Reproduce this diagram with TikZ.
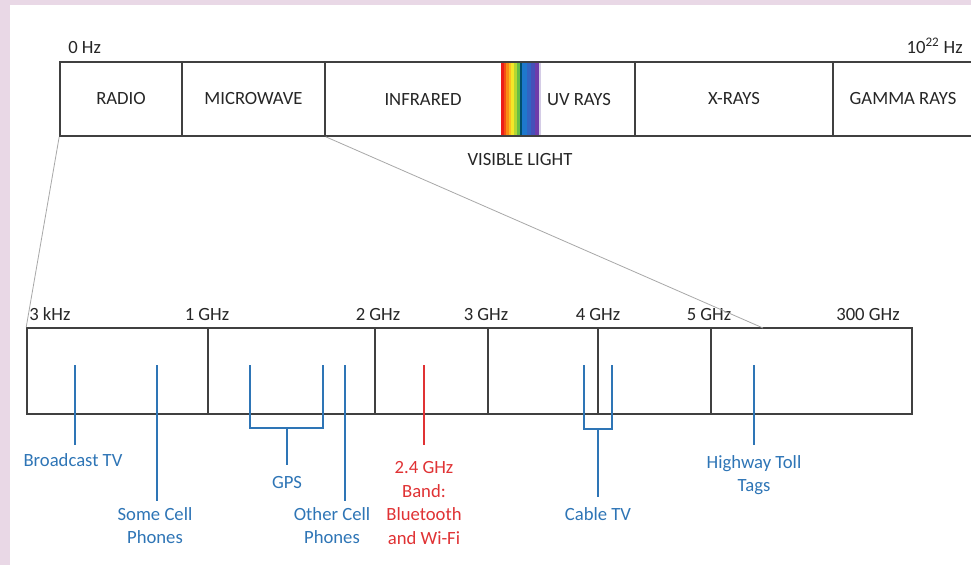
\documentclass[tikz,border=0pt]{standalone}
\usepackage{fontspec}
\setmainfont{Carlito}
\usepackage{tikz}
\usetikzlibrary{positioning,calc}
\usepackage{xcolor}

\definecolor{framegray}{RGB}{64,64,64}
\definecolor{textgray}{RGB}{38,38,38}
\definecolor{zoomgray}{RGB}{168,168,168}
\definecolor{useblue}{RGB}{46,117,182}
\definecolor{usered}{RGB}{224,50,52}
\definecolor{edgepink}{RGB}{233,216,230}
% rainbow stripes
\definecolor{rbred}{RGB}{236,30,24}
\definecolor{rbredorange}{RGB}{245,80,20}
\definecolor{rborange}{RGB}{250,140,20}
\definecolor{rbamber}{RGB}{250,190,30}
\definecolor{rbyellow}{RGB}{244,230,40}
\definecolor{rblime}{RGB}{180,215,50}
\definecolor{rbgreen}{RGB}{100,190,70}
\definecolor{rbteal}{RGB}{0,80,110}
\definecolor{rbblue}{RGB}{30,120,205}
\definecolor{rbmidblue}{RGB}{50,100,195}
\definecolor{rbindigo}{RGB}{70,80,185}
\definecolor{rbviolet}{RGB}{110,60,170}
\definecolor{rblilac}{RGB}{212,204,230}

\begin{document}
\begin{tikzpicture}[x=0.75pt, y=-0.75pt,
    topband/.style={draw=framegray, line width=1.2pt, inner sep=0pt,
                    minimum width=#1*0.75pt, minimum height=74*0.75pt,
                    font=\fontsize{14}{17}\selectfont, text=textgray},
    lowband/.style={draw=framegray, line width=1.2pt, inner sep=0pt,
                    minimum width=#1*0.75pt, minimum height=86*0.75pt},
    bandtxt/.style={font=\fontsize{14}{17}\selectfont, text=textgray, inner sep=0pt},
    freq/.style={font=\fontsize{14}{17}\selectfont, text=textgray, inner sep=0pt},
    zoomline/.style={draw=zoomgray, line width=0.6pt},
    uselbl/.style={font=\fontsize{14}{17.8}\selectfont, align=center,
                   inner sep=0pt, anchor=north},
    bluelbl/.style={uselbl, text=useblue},
    redlbl/.style={uselbl, text=usered},
    bluetick/.style={draw=useblue, line width=1.5pt},
    redtick/.style={draw=usered, line width=1.5pt}
]

% Page and blurred edge
\useasboundingbox (0,0) rectangle (971,565);
\fill[edgepink] (0,0) rectangle (971,565);
\fill[white] (10,5) rectangle (971,565);

% Visible light stripes
\foreach \c/\xa/\xb in {rbred/501/504, rbredorange/504/506, rborange/506/508.5,
                        rbamber/508.5/511, rbyellow/511/514, rblime/514/516.5,
                        rbgreen/516.5/520, rbteal/520/522, rbblue/522/527,
                        rbmidblue/527/531, rbindigo/531/535, rbviolet/535/539,
                        rblilac/539/541} {
    \fill[\c] (\xa,63) rectangle (\xb,135);
}

% Full spectrum bar
\node[topband={122}] (radio) at (121,99) {RADIO};
\node[topband={143}] (microwave) at (253.5,99) {MICROWAVE};
\node[topband={310}] (irbox) at (480,99) {};
\node[bandtxt] (infrared) at (423,100) {INFRARED};
\node[bandtxt] (uvrays) at (579,100) {UV RAYS};
\node[topband={198}] (xrays) at (734,99) {X-RAYS};
\node[topband={140}] (gamma) at (903,99) {GAMMA RAYS};

\node[freq, anchor=base west] (zerohz) at (68,53) {0 Hz};
\node[freq, anchor=base east] (maxhz) at (963,53) {10\textsuperscript{22} Hz};
\node[bandtxt, anchor=base] (visible) at (520,165) {VISIBLE LIGHT};

% Radio / microwave close-up
\node[lowband={181}] (low1) at (117.5,371) {};
\node[lowband={167}] (low2) at (291.5,371) {};
\node[lowband={113}] (low3) at (431.5,371) {};
\node[lowband={110}] (low4) at (543,371) {};
\node[lowband={113}] (low5) at (654.5,371) {};
\node[lowband={201}] (low6) at (811.5,371) {};

\node[freq, anchor=base west] (f3k) at (29,320) {3 kHz};
\foreach \f/\x in {1 GHz/207, 2 GHz/378, 3 GHz/486, 4 GHz/598, 5 GHz/709, 300 GHz/868} {
    \node[freq, anchor=base] (f\x) at (\x,320) {\f};
}

% Zoom lines
\coordinate (zoomend) at (763,328);
\draw[zoomline] (radio.south west) -- (low1.north west);
\draw[zoomline] (microwave.south east) -- (zoomend);

% Uses
\coordinate (btvtop) at (75,365);
\coordinate (celltop) at (157,365);
\coordinate (gpsl) at (250,365);
\coordinate (gpsr) at (323,365);
\coordinate (gpsjoin) at (287,428);
\coordinate (othertop) at (345,365);
\coordinate (wifitop) at (424,365);
\coordinate (cabl) at (584,365);
\coordinate (cabr) at (612,365);
\coordinate (cabjoin) at (598,429);
\coordinate (tolltop) at (754,365);

\node[bluelbl] (btv) at (73,453) {Broadcast TV};
\node[bluelbl] (somecell) at (155,507) {Some Cell\\Phones};
\node[bluelbl] (gps) at (287,476) {GPS};
\node[bluelbl] (othercell) at (332,507) {Other Cell\\Phones};
\node[redlbl] (wifi) at (424,461) {2.4 GHz\\Band:\\Bluetooth\\and Wi-Fi};
\node[bluelbl] (cabletv) at (598,507) {Cable TV};
\node[bluelbl] (toll) at (754,455) {Highway Toll\\Tags};

\draw[bluetick, shorten >=6pt] (btvtop) -- (btvtop |- btv.north);
\draw[bluetick, shorten >=4.5pt] (celltop) -- (celltop |- somecell.north);
\draw[bluetick] (gpsl) |- (gpsjoin) -| (gpsr);
\draw[bluetick, shorten >=8.25pt] (gpsjoin) -- (gpsjoin |- gps.north);
\draw[bluetick, shorten >=4.5pt] (othertop) -- (othertop |- othercell.north);
\draw[redtick, shorten >=12pt] (wifitop) -- (wifitop |- wifi.north);
\draw[bluetick] (cabl) |- (cabjoin) -| (cabr);
\draw[bluetick, shorten >=7.5pt] (cabjoin) -- (cabjoin |- cabletv.north);
\draw[bluetick, shorten >=7.5pt] (tolltop) -- (tolltop |- toll.north);

\end{tikzpicture}
\end{document}
